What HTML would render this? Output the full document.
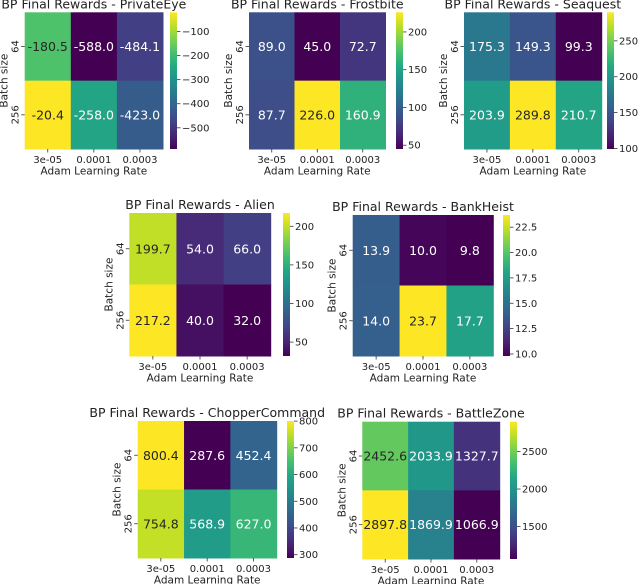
<!DOCTYPE html>
<html><head><meta charset="utf-8">
<style>
html,body{margin:0;padding:0;background:#fff;}
svg{display:block;font-family:"DejaVu Sans","Liberation Sans",sans-serif;}
</style></head>
<body>
<svg id="fig" width="640" height="584" viewBox="0 0 640 584" xmlns="http://www.w3.org/2000/svg">
<defs id="defs"></defs>
</svg>
<script>
// ---- data ----
const titles = ["PrivateEye","Frostbite","Seaquest","Alien","BankHeist","ChopperCommand","BattleZone"];
const xCategories = ["3e-05","0.0001","0.0003"];
const yCategories = ["64","256"];
const privateEyeValues = [[-180.5,-588.0,-484.1],[-20.4,-258.0,-423.0]];
const frostbiteValues = [[89.0,45.0,72.7],[87.7,226.0,160.9]];
const seaquestValues = [[175.3,149.3,99.3],[203.9,289.8,210.7]];
const alienValues = [[199.7,54.0,66.0],[217.2,40.0,32.0]];
const bankHeistValues = [[13.9,10.0,9.8],[14.0,23.7,17.7]];
const chopperValues = [[800.4,287.6,452.4],[754.8,568.9,627.0]];
const battleZoneValues = [[2452.6,2033.9,1327.7],[2897.8,1869.9,1066.9]];
const privateEyeTicks = [-100,-200,-300,-400,-500];
const frostbiteTicks = [50,100,150,200];
const seaquestTicks = [100,150,200,250];
const alienTicks = [50,100,150,200];
const bankHeistTicks = [10.0,12.5,15.0,17.5,20.0,22.5];
const chopperTicks = [300,400,500,600,700,800];
const battleZoneTicks = [1500,2000,2500];

const allValues = [privateEyeValues,frostbiteValues,seaquestValues,alienValues,bankHeistValues,chopperValues,battleZoneValues];
const allTicks = [privateEyeTicks,frostbiteTicks,seaquestTicks,alienTicks,bankHeistTicks,chopperTicks,battleZoneTicks];
const tickDecimals = [0,0,0,0,1,0,0];

// ---- layout (pixels) ----
const layouts = [
 {x0:24.7,x1:163,y0:12.3,y1:149,cb:170},
 {x0:249,x1:385.5,y0:12.3,y1:149,cb:396},
 {x0:464,x1:601.7,y0:12.3,y1:149,cb:607},
 {x0:129.3,x1:270.7,y0:213,y1:356,cb:283},
 {x0:352.7,x1:493.3,y0:215,y1:356,cb:503},
 {x0:137.7,x1:276.7,y0:421,y1:558,cb:287},
 {x0:362.3,x1:499.7,y0:421.7,y1:559,cb:510}
];

const VIR = [[68,1,84],[72,36,117],[65,68,135],[53,95,141],[42,120,142],[33,145,140],[34,168,132],[68,191,112],[122,209,81],[189,223,38],[253,231,37]];
function viridis(t){
  t=Math.max(0,Math.min(1,t));
  const p=t*(VIR.length-1), i=Math.min(VIR.length-2,Math.floor(p)), f=p-i;
  const c=VIR[i].map((v,k)=>Math.round(v+(VIR[i+1][k]-v)*f));
  return c;
}
function lum(c){const l=c.map(v=>{v/=255;return v<=0.03928?v/12.92:Math.pow((v+0.055)/1.055,2.4);});return 0.2126*l[0]+0.7152*l[1]+0.0722*l[2];}
const NS="http://www.w3.org/2000/svg";
const svg=document.getElementById('fig');
const defs=document.getElementById('defs');
function mk(tag,attrs,parent){const e=document.createElementNS(NS,tag);for(const k in attrs)e.setAttribute(k,attrs[k]);(parent||svg).appendChild(e);return e;}
function fmtTick(v,d){return (v<0?"\u2212":"")+Math.abs(v).toFixed(d);}

// gradient
const grad=mk('linearGradient',{id:'vir',x1:'0',y1:'1',x2:'0',y2:'0'},defs);
VIR.forEach((c,i)=>{mk('stop',{offset:(i/(VIR.length-1)),'stop-color':'rgb('+c.join(',')+')'},grad);});

titles.forEach((title,p)=>{
  const L=layouts[p], vals=allValues[p];
  const flat=vals.flat(); const vmin=Math.min(...flat), vmax=Math.max(...flat);
  const g=mk('g',{});
  
  
  const cw=(L.x1-L.x0)/xCategories.length, rh=(L.y1-L.y0)/yCategories.length;
  const xScale=i=>L.x0+i*cw, yScale=j=>L.y0+j*rh;
  const t=mk('text',{x:(L.x0+L.x1)/2,y:L.y0-4,'text-anchor':'middle','font-size':'12.5',fill:'#222'},g);
  t.textContent='BP Final Rewards - '+title;
  
  
  vals.forEach((row,j)=>row.forEach((v,i)=>{
    const c=viridis((v-vmin)/(vmax-vmin));
    const r=mk('rect',{x:xScale(i),y:yScale(j),width:cw+0.5,height:rh+0.5,fill:'rgb('+c.join(',')+')'},g);
    
    
    const tx=mk('text',{x:xScale(i)+cw/2,y:yScale(j)+rh/2+4.5,'text-anchor':'middle','font-size':'12.5',fill:lum(c)>0.408?'#262626':'#ffffff'},g);
    tx.textContent=v.toFixed(1);
    
    
  }));
  xCategories.forEach((c,i)=>{
    const cx=xScale(i)+cw/2;
    mk('line',{x1:cx,x2:cx,y1:L.y1,y2:L.y1+3.5,stroke:'#333','stroke-width':0.8},g);
    const tx=mk('text',{x:cx,y:L.y1+14,'text-anchor':'middle','font-size':'10',fill:'#222'},g);
    tx.textContent=c;
    
    
  });
  const xl=mk('text',{x:(L.x0+L.x1)/2,y:L.y1+25.5,'text-anchor':'middle','font-size':'10.5',fill:'#222'},g);
  xl.textContent='Adam Learning Rate';
  
  
  yCategories.forEach((c,j)=>{
    const cy=yScale(j)+rh/2;
    mk('line',{x1:L.x0-3.5,x2:L.x0,y1:cy,y2:cy,stroke:'#333','stroke-width':0.8},g);
    const tx=mk('text',{x:L.x0-6,y:cy,'text-anchor':'middle','font-size':'10',fill:'#222',transform:'rotate(-90 '+(L.x0-6)+' '+cy+')'},g);
    tx.textContent=c;
    
    
  });
  const ym=(L.y0+L.y1)/2, yx=L.x0-17;
  const yl=mk('text',{x:yx,y:ym,'text-anchor':'middle','font-size':'10.5',fill:'#222',transform:'rotate(-90 '+yx+' '+ym+')'},g);
  yl.textContent='Batch size';
  
  
  // colorbar
  const cb=mk('rect',{x:L.cb,y:L.y0,width:7,height:L.y1-L.y0,fill:'url(#vir)'},g);
  
  
  const cbScale=v=>L.y1-(v-vmin)/(vmax-vmin)*(L.y1-L.y0);
  allTicks[p].forEach(v=>{
    const y=cbScale(v);
    mk('line',{x1:L.cb+7,x2:L.cb+10.5,y1:y,y2:y,stroke:'#333','stroke-width':0.8},g);
    const tx=mk('text',{x:L.cb+12,y:y+3.5,'font-size':'10',fill:'#222'},g);
    tx.textContent=fmtTick(v,tickDecimals[p]);
    
    
  });
});
</script>
</body></html>
